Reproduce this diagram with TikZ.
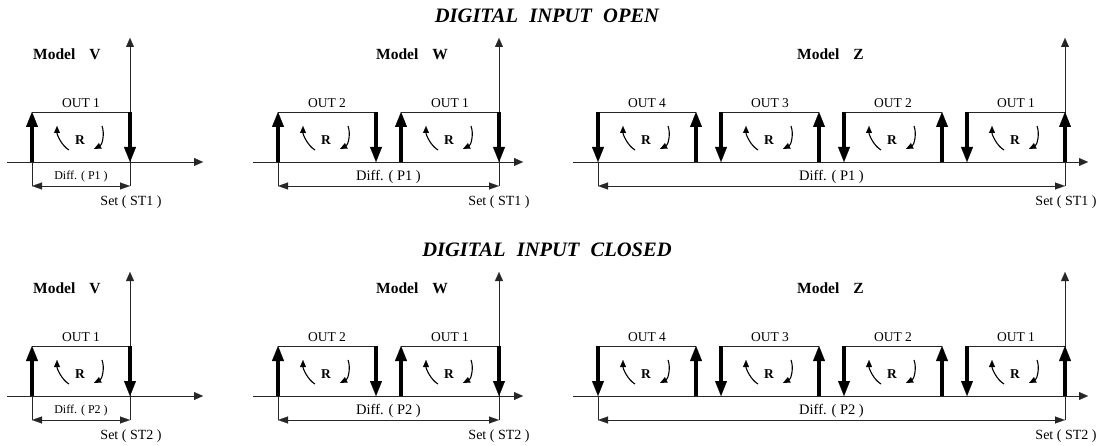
\documentclass[tikz,border=0pt]{standalone}
\usepackage{fontspec}
\setmainfont{Liberation Serif}
\usetikzlibrary{arrows.meta,calc}

\tikzset{
  thinline/.style={line width=0.9pt, draw=black!85},
  axisline/.style={thinline, -{Triangle[length=9pt,width=8pt,line width=0.1pt]}},
  relay/.style={line width=3.3pt, draw=black, -{Triangle[length=15pt,width=12pt,line width=0.1pt]}},
  diffarrow/.style={thinline, {Triangle[length=10pt,width=7pt,line width=0.1pt]}-{Triangle[length=10pt,width=7pt,line width=0.1pt]}},
  turn/.style={line width=1.1pt, -{Triangle[length=7pt,width=6pt,line width=0.1pt]}},
  titlelbl/.style={font=\fontsize{20.5}{24}\selectfont\bfseries\itshape, inner sep=0pt},
  model/.style={font=\fontsize{15.5}{18}\selectfont\bfseries, anchor=west, inner sep=0pt},
  outlbl/.style={font=\fontsize{13.5}{16}\selectfont, inner sep=0pt},
  rlbl/.style={font=\fontsize{13.5}{16}\selectfont\bfseries, inner sep=0pt},
  difflbl/.style={font=\fontsize{14.5}{17}\selectfont, inner sep=0pt},
  difflblsmall/.style={font=\fontsize{12}{14}\selectfont, inner sep=0pt},
  setlbl/.style={font=\fontsize{14}{17}\selectfont, inner sep=0pt},
}

% One output band: name, left edge on the axis, label, n = rise left / fall right, r = reversed
\newcommand{\outbox}[4]{%
  \begin{scope}[shift={#2}]
    \coordinate (#1-bl) at (0,0);
    \coordinate (#1-tl) at (0,-50);
    \coordinate (#1-tr) at (98,-50);
    \coordinate (#1-br) at (98,0);
    \draw[thinline] (#1-tl) -- (#1-tr);
    \if#4n
      \draw[relay] (#1-bl) -- (#1-tl);
      \draw[relay] (#1-tr) -- (#1-br);
    \else
      \draw[relay] (#1-tl) -- (#1-bl);
      \draw[relay] (#1-br) -- (#1-tr);
    \fi
    \node[outlbl] (#1-out) at (49,-59) {#3};
    \node[rlbl] (#1-r) at (48,-22) {R};
    \coordinate (#1-ca) at (37,-12);
    \coordinate (#1-cb) at (25,-36);
    \coordinate (#1-cc) at (70,-36);
    \coordinate (#1-cd) at (62,-13);
    \draw[turn] (#1-ca) .. controls (30,-16) and (25,-27) .. (#1-cb);
    \draw[turn] (#1-cc) .. controls (73,-28) and (70,-17) .. (#1-cd);
  \end{scope}%
}

% A full row of the three models: name prefix, axis height, heading, parameter index
\newcommand{\diagrow}[4]{%
  \begin{scope}[shift={(0,#2)}]
    \node[titlelbl] (#1title) at (547,-146) {#3};
    % ---- Model V ----
    \coordinate (#1Vax0) at (7,0);
    \coordinate (#1Vax1) at (203,0);
    \coordinate (#1Vdl) at (32,24);
    \coordinate (#1Vdr) at (130,24);
    \coordinate (#1Vtop) at (130,-124);
    \draw[axisline] (#1Vax0) -- (#1Vax1);
    \draw[axisline] (#1Vdr) -- (#1Vtop);
    \outbox{#1V1}{(32,0)}{OUT 1}{n}
    \draw[thinline] (#1V1-bl) -- (#1Vdl);
    \draw[diffarrow] (#1Vdl) -- (#1Vdr);
    \node[difflblsmall] (#1Vdiff) at (81,15) {Diff. ( P#4 )};
    \node[setlbl] (#1Vset) at (131,40) {Set ( ST#4 )};
    \node[model] (#1Vmodel) at (33,-108) {Model\hspace{14pt}V};
    % ---- Model W ----
    \coordinate (#1Wax0) at (253,0);
    \coordinate (#1Wax1) at (523,0);
    \coordinate (#1Wdl) at (278,24);
    \coordinate (#1Wdr) at (499,24);
    \coordinate (#1Wtop) at (499,-124);
    \draw[axisline] (#1Wax0) -- (#1Wax1);
    \draw[axisline] (#1Wdr) -- (#1Wtop);
    \outbox{#1W2}{(278,0)}{OUT 2}{n}
    \outbox{#1W1}{(401,0)}{OUT 1}{n}
    \draw[thinline] (#1W2-bl) -- (#1Wdl);
    \draw[diffarrow] (#1Wdl) -- (#1Wdr);
    \node[difflbl] (#1Wdiff) at (388.5,15) {Diff. ( P#4 )};
    \node[setlbl] (#1Wset) at (499,40) {Set ( ST#4 )};
    \node[model] (#1Wmodel) at (376,-108) {Model\hspace{14pt}W};
    % ---- Model Z ----
    \coordinate (#1Zax0) at (573,0);
    \coordinate (#1Zax1) at (1088,0);
    \coordinate (#1Zdl) at (598,24);
    \coordinate (#1Zdr) at (1065,24);
    \coordinate (#1Ztop) at (1065,-124);
    \draw[axisline] (#1Zax0) -- (#1Zax1);
    \draw[axisline] (#1Zdr) -- (#1Ztop);
    \outbox{#1Z4}{(598,0)}{OUT 4}{r}
    \outbox{#1Z3}{(721,0)}{OUT 3}{r}
    \outbox{#1Z2}{(844,0)}{OUT 2}{r}
    \outbox{#1Z1}{(967,0)}{OUT 1}{r}
    \draw[thinline] (#1Z4-bl) -- (#1Zdl);
    \draw[diffarrow] (#1Zdl) -- (#1Zdr);
    \node[difflbl] (#1Zdiff) at (831.5,15) {Diff. ( P#4 )};
    \node[setlbl] (#1Zset) at (1066,40) {Set ( ST#4 )};
    \node[model] (#1Zmodel) at (797,-108) {Model\hspace{14pt}Z};
  \end{scope}%
}

\begin{document}
\begin{tikzpicture}[x=1pt, y=-1pt]
  \useasboundingbox (0,0) rectangle (1107,446);
  \diagrow{open}{162}{DIGITAL\hspace{0.55em}INPUT\hspace{0.55em}OPEN}{1}
  \diagrow{closed}{396}{DIGITAL\hspace{0.55em}INPUT\hspace{0.55em}CLOSED}{2}
\end{tikzpicture}
\end{document}
